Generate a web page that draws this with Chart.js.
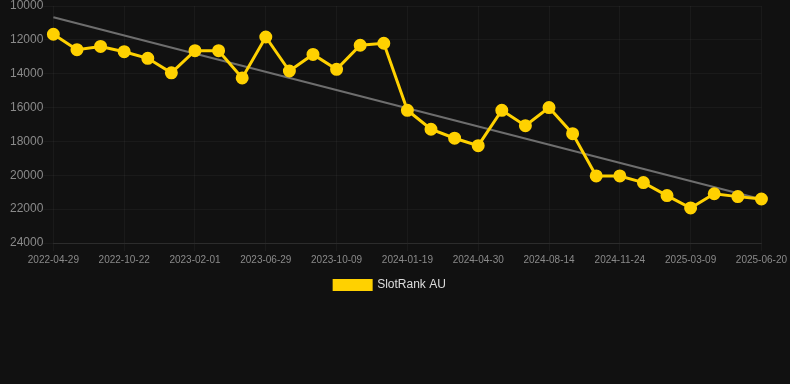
<!DOCTYPE html>
<html>
<head>
<meta charset="utf-8">
<script src="https://cdn.jsdelivr.net/npm/chart.js@4"></script>
<style>
  html, body { margin: 0; padding: 0; background: #111111; overflow: hidden; }
  #wrap { width: 790px; height: 308px; position: relative; margin-top: -3px; }
</style>
</head>
<body>
<div id="wrap"><canvas id="chart"></canvas></div>
<script>
const dates = [
  "2022-04-29", "2022-06-15", "2022-08-20", "2022-10-22", "2022-11-25", "2022-12-28",
  "2023-02-01", "2023-03-20", "2023-05-12", "2023-06-29", "2023-08-04", "2023-09-05",
  "2023-10-09", "2023-11-15", "2023-12-18", "2024-01-19", "2024-02-22", "2024-03-27",
  "2024-04-30", "2024-06-05", "2024-07-10", "2024-08-14", "2024-09-18", "2024-10-21",
  "2024-11-24", "2024-12-28", "2025-02-02", "2025-03-09", "2025-04-11", "2025-05-16",
  "2025-06-20"
];

const slotRankAU = [
  11670, 12580, 12390, 12700, 13090, 13950,
  12640, 12640, 14250, 11830, 13840, 12860,
  13740, 12320, 12200, 16160, 17280, 17810,
  18250, 16160, 17070, 16000, 17540, 20040,
  20040, 20430, 21200, 21930, 21090, 21260,
  21400
];

// trend line end points (first and last date)
const trendStart = 10670;
const trendEnd = 21420;

const yTicks = [10000, 12000, 14000, 16000, 18000, 20000, 22000, 24000];

const trendData = dates.map((d, i) => {
  if (i === 0) return trendStart;
  if (i === dates.length - 1) return trendEnd;
  return null;
});

new Chart(document.getElementById("chart").getContext("2d"), {
  type: "line",
  data: {
    labels: dates,
    datasets: [
      {
        label: "SlotRank AU",
        data: slotRankAU,
        borderColor: "#ffd100",
        backgroundColor: "#ffd100",
        borderWidth: 3,
        pointRadius: 5,
        pointHoverRadius: 6,
        tension: 0,
        order: 1,
      },
      {
        label: "trend",
        data: trendData,
        borderColor: "#6e6e6e",
        backgroundColor: "#6e6e6e",
        borderWidth: 2,
        pointRadius: 0,
        spanGaps: true,
        order: 2,
      },
    ],
  },
  options: {
    responsive: true,
    maintainAspectRatio: false,
    animation: false,
    layout: { padding: { left: 0, right: 10, top: 0, bottom: 4 } },
    plugins: {
      legend: {
        position: "bottom",
        labels: {
          color: "#dddddd",
          font: { size: 12, family: "Arial, Liberation Sans, sans-serif" },
          boxWidth: 37,
          boxHeight: 9,
          filter: (item) => item.text !== "trend",
        },
      },
      tooltip: { enabled: false },
    },
    scales: {
      x: {
        grid: { color: "rgba(255,255,255,0.04)" },
        border: { color: "rgba(255,255,255,0.08)" },
        ticks: {
          color: "#8a8a8a",
          font: { size: 10, family: "Arial, Liberation Sans, sans-serif" },
          maxRotation: 0,
          autoSkip: true,
          maxTicksLimit: 11,
        },
      },
      y: {
        reverse: true,
        min: yTicks[0],
        max: yTicks[yTicks.length - 1],
        afterBuildTicks: (scale) => {
          scale.ticks = yTicks.map((v) => ({ value: v }));
        },
        afterFit: (scale) => {
          scale.width += 10;
        },
        grid: { color: "rgba(255,255,255,0.04)", drawTicks: true, tickLength: 10 },
        border: { display: false },
        ticks: {
          color: "#8a8a8a",
          padding: 0,
          font: { size: 12, family: "Arial, Liberation Sans, sans-serif" },
          callback: (v) => String(v),
        },
      },
    },
  },
});
</script>
</body>
</html>
